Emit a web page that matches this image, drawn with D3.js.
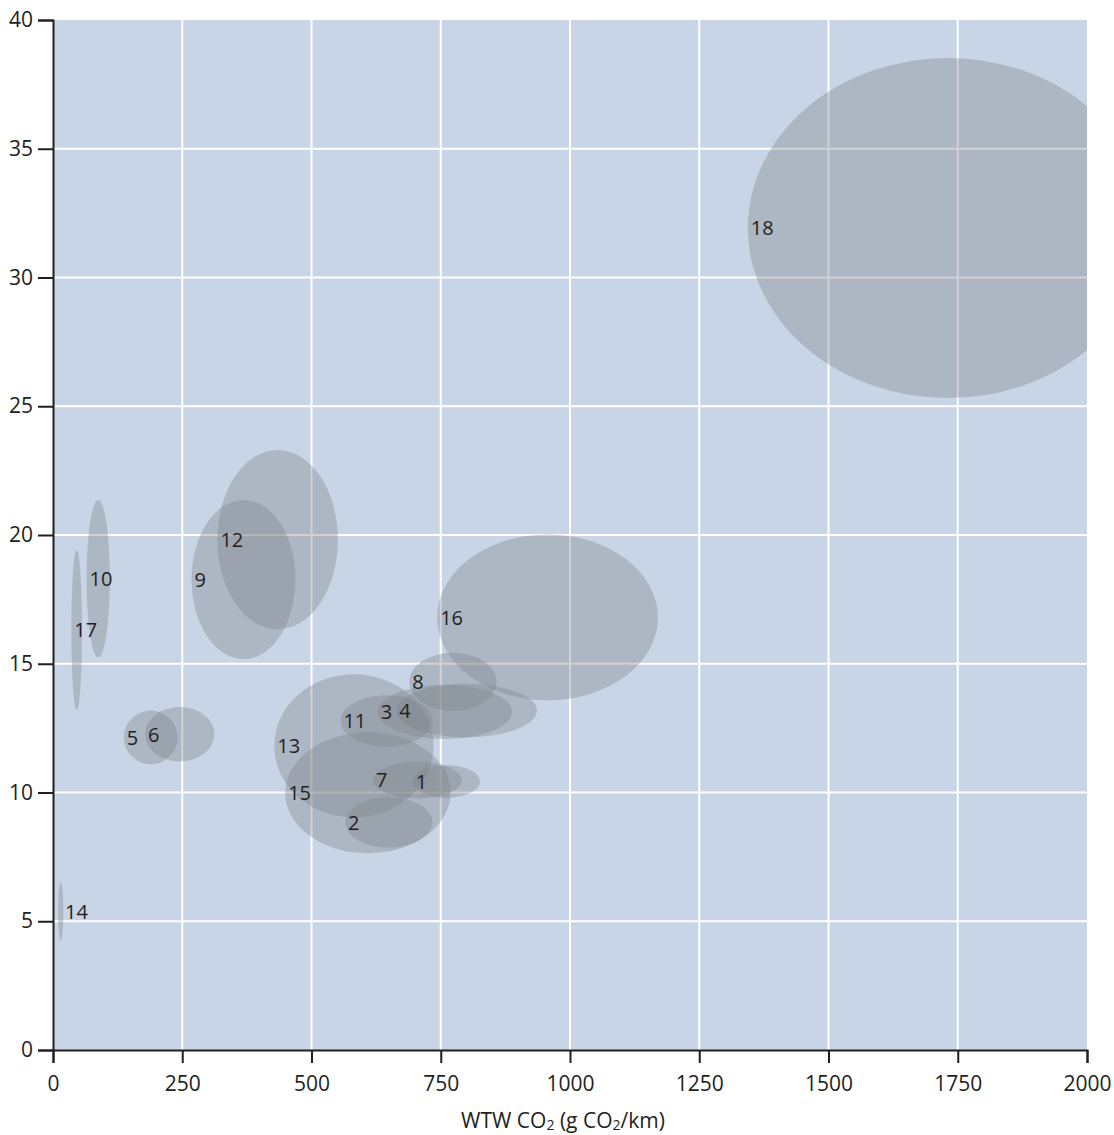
<!DOCTYPE html>
<html>
<head>
<meta charset="utf-8">
<script src="https://cdn.jsdelivr.net/npm/d3@7"></script>
<style>
  html, body { margin: 0; padding: 0; background: #fff; }
  svg { display: block; }
  text { font-family: "Open Sans", "DejaVu Sans", sans-serif; fill: #231f20; }
</style>
</head>
<body>
<svg id="chart" width="1114" height="1135"></svg>
<script>
// Each entry is one option: ranges of WTW CO2 (x) and of the y value.
const ids   = [1, 2, 3, 4, 5, 6, 7, 8, 9, 10, 11, 12, 13, 14, 15, 16, 17, 18];
const xLow  = [696, 565, 628, 664, 137, 178, 619, 689, 268, 65, 556, 318, 428, 9.7, 449, 743, 35.5, 1344];
const xHigh = [826, 734, 888, 936, 241, 312, 791, 858, 469, 110, 734, 551, 736, 20.1, 769, 1170, 56.1, 2118];
const yLow  = [9.80, 7.86, 12.08, 12.14, 11.10, 11.20, 9.77, 13.17, 15.18, 15.24, 11.78, 16.34, 9.03, 4.25, 7.64, 13.58, 13.20, 25.32];
const yHigh = [11.06, 9.82, 14.18, 14.22, 13.18, 13.32, 11.19, 15.43, 21.36, 21.36, 13.78, 23.30, 14.59, 6.51, 12.34, 20.02, 19.42, 38.52];

const xTicks = [0, 250, 500, 750, 1000, 1250, 1500, 1750, 2000];
const yTicks = [0, 5, 10, 15, 20, 25, 30, 35, 40];
const xTitle = ["WTW CO", "2", " (g CO", "2", "/km)"];

const margin = { top: 20, right: 27, bottom: 85, left: 53 };
const W = 1114, H = 1135;
const w = W - margin.left - margin.right;
const h = H - margin.top - margin.bottom;

const svg = d3.select("#chart");
const g = svg.append("g").attr("transform", `translate(${margin.left},${margin.top})`);

const x = d3.scaleLinear().domain([0, 2000]).range([0, w]);
const y = d3.scaleLinear().domain([0, 40]).range([h, 0]);

// plot background
g.append("rect").attr("width", w).attr("height", h).attr("fill", "#c8d5e6");

// white grid at interior ticks
g.append("g").selectAll("line").data(xTicks.filter(t => t > 0 && t < 2000)).join("line")
  .attr("x1", d => x(d)).attr("x2", d => x(d)).attr("y1", 0).attr("y2", h)
  .attr("stroke", "#fff").attr("stroke-width", 2);
g.append("g").selectAll("line").data(yTicks.filter(t => t > 0 && t < 40)).join("line")
  .attr("y1", d => y(d)).attr("y2", d => y(d)).attr("x1", 0).attr("x2", w)
  .attr("stroke", "#fff").attr("stroke-width", 2);

// ellipses, clipped to the plot area
svg.append("defs").append("clipPath").attr("id", "plotClip")
  .append("rect").attr("width", w).attr("height", h);

const items = ids.map((id, i) => ({
  id, x0: xLow[i], x1: xHigh[i], y0: yLow[i], y1: yHigh[i]
}));

const marks = g.append("g").attr("clip-path", "url(#plotClip)");
marks.selectAll("ellipse").data(items).join("ellipse")
  .attr("cx", d => x((d.x0 + d.x1) / 2))
  .attr("cy", d => y((d.y0 + d.y1) / 2))
  .attr("rx", d => (x(d.x1) - x(d.x0)) / 2)
  .attr("ry", d => (y(d.y0) - y(d.y1)) / 2)
  .attr("fill", "#7c8189")
  .attr("fill-opacity", 0.36);

// number labels at the left edge of each ellipse
g.append("g").selectAll("text").data(items).join("text")
  .attr("x", d => Math.max(x(d.x0) + 3, 12))
  .attr("y", d => y((d.y0 + d.y1) / 2))
  .attr("dy", "0.36em")
  .attr("font-size", 20)
  .text(d => d.id);

// axes
const xAxis = g.append("g").attr("transform", `translate(0,${h})`)
  .call(d3.axisBottom(x).tickValues(xTicks).tickFormat(d3.format("d")).tickSize(13).tickPadding(13));
const yAxis = g.append("g")
  .call(d3.axisLeft(y).tickValues(yTicks).tickFormat(d3.format("d")).tickSize(15).tickPadding(5));

[xAxis, yAxis].forEach(a => {
  a.select(".domain").attr("stroke", "#231f20").attr("stroke-width", 2);
  a.selectAll(".tick line").attr("stroke", "#231f20").attr("stroke-width", 2);
  a.selectAll(".tick text").attr("font-size", 21)
    .attr("font-family", "'Open Sans', 'DejaVu Sans', sans-serif").attr("fill", "#231f20");
});

// x axis title with subscript 2s
const title = svg.append("text")
  .attr("x", 563).attr("y", 1128)
  .attr("text-anchor", "middle")
  .attr("font-size", 21);
xTitle.forEach((s, i) => {
  const sp = title.append("tspan").text(s);
  if (s === "2") sp.attr("font-size", 14).attr("dy", 2);
  else if (i > 0) sp.attr("dy", -2);
});
</script>
</body>
</html>
